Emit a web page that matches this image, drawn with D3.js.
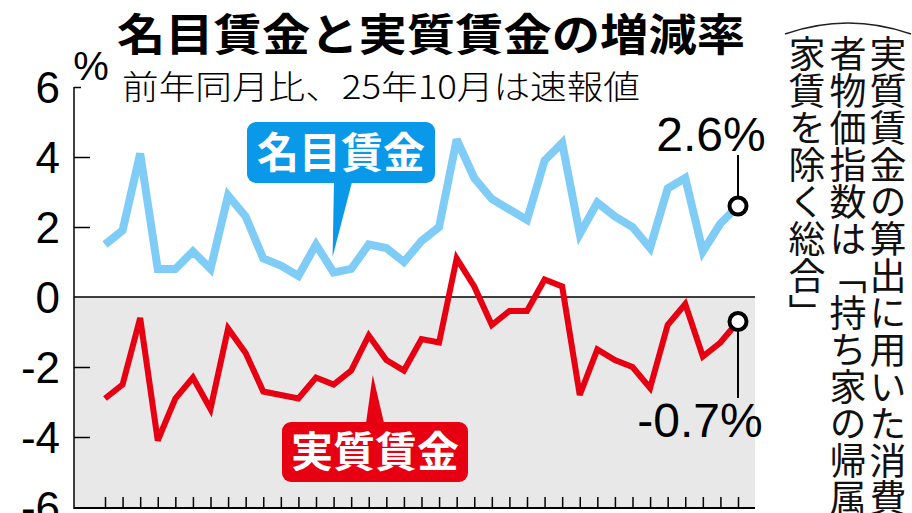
<!DOCTYPE html>
<html><head><meta charset="utf-8">
<script src="https://cdn.jsdelivr.net/npm/d3@7"></script>
<style>
html,body{margin:0;padding:0;background:#fff;}
svg{display:block;}
</style></head>
<body>
<svg id="c" width="912" height="513"></svg>
<script>
// ---- data ----
const months = ["22-10","22-11","22-12","23-01","23-02","23-03","23-04","23-05","23-06","23-07","23-08","23-09","23-10","23-11","23-12","24-01","24-02","24-03","24-04","24-05","24-06","24-07","24-08","24-09","24-10","24-11","24-12","25-01","25-02","25-03","25-04","25-05","25-06","25-07","25-08","25-09","25-10"];
const nominal = [1.5,1.9,4.1,0.8,0.8,1.3,0.8,2.9,2.3,1.1,0.9,0.6,1.5,0.7,0.8,1.5,1.4,1.0,1.6,2.0,4.5,3.4,2.8,2.5,2.2,3.9,4.4,1.8,2.7,2.3,2.0,1.4,3.1,3.4,1.3,2.1,2.6];
const real = [-2.9,-2.5,-0.6,-4.1,-2.9,-2.3,-3.2,-0.9,-1.6,-2.7,-2.8,-2.9,-2.3,-2.5,-2.1,-1.1,-1.8,-2.1,-1.2,-1.3,1.1,0.3,-0.8,-0.4,-0.4,0.5,0.3,-2.8,-1.5,-1.8,-2.0,-2.6,-0.8,-0.2,-1.7,-1.3,-0.7];
const yTicks = [6,4,2,0,-2,-4,-6];
const title = "名目賃金と実質賃金の増減率";
const subtitle = "前年同月比、25年10月は速報値";
const seriesNames = ["名目賃金","実質賃金"];
const noteCols = ["実質賃金の算出に用いた消費","者物価指数は「持ち家の帰属","家賃を除く総合」"];

// ---- layout ----
const svg = d3.select("#c");
const x = d3.scalePoint().domain(months).range([105, 738]);
const y = d3.scaleLinear().domain([-6, 6]).range([507, 87]);
const plotL = 74, plotR = 755;
const latin = "'Liberation Sans', Arial, sans-serif";
const cjk = "'Noto Sans CJK JP', sans-serif";
const fmt = d3.formatLocale({decimal: ".", thousands: ",", grouping: [3], currency: ["", ""], minus: "-"}).format(".1f");

// negative area
svg.append("rect").attr("x", plotL).attr("y", y(0)).attr("width", plotR - plotL).attr("height", y(-6) - y(0)).attr("fill", "#e8e8e8");
svg.append("line").attr("x1", plotL).attr("x2", plotR).attr("y1", y(0)).attr("y2", y(0)).attr("stroke", "#000").attr("stroke-width", 1.5);
svg.append("line").attr("x1", plotL).attr("x2", plotR).attr("y1", y(-6) + 1).attr("y2", y(-6) + 1).attr("stroke", "#000").attr("stroke-width", 2);

// y axis
const yAxis = d3.axisRight(y).tickValues(yTicks).tickSize(16).tickFormat("");
const ya = svg.append("g").attr("transform", `translate(${plotL},0)`).call(yAxis);
ya.select(".domain").remove();
ya.selectAll(".tick line").attr("stroke", "#000").attr("stroke-width", 1.5)
  .attr("x2", d => d === 6 ? 7 : (d === 0 || d === -6 ? 0 : 16));
svg.append("line").attr("x1", plotL).attr("x2", plotL).attr("y1", y(6)).attr("y2", y(-6) + 2).attr("stroke", "#000").attr("stroke-width", 1.5);
svg.append("g").selectAll("text").data(yTicks).join("text")
  .attr("x", 60).attr("y", d => y(d)).attr("dy", "0.36em").attr("text-anchor", "end")
  .attr("font-family", latin).attr("font-size", 44).attr("fill", "#000")
  .text(d => d);
svg.append("text").attr("x", 91).attr("y", 80).attr("text-anchor", "middle")
  .attr("font-family", latin).attr("font-size", 40).text("%");

// x ticks
const xAxis = d3.axisTop(x).tickSize(11).tickFormat("");
const xa = svg.append("g").attr("transform", `translate(0,${y(-6) + 1})`).call(xAxis);
xa.select(".domain").remove();
xa.selectAll(".tick line").attr("stroke", "#000").attr("stroke-width", 1.5);

// title
svg.append("text").attr("x", 117).attr("y", 51).attr("font-family", cjk).attr("font-weight", 700)
  .attr("font-size", 44).attr("textLength", 628).attr("lengthAdjust", "spacingAndGlyphs").text(title);
svg.append("text").attr("x", 122).attr("y", 99).attr("font-family", cjk).attr("font-weight", 300)
  .attr("font-size", 33).attr("textLength", 518).attr("lengthAdjust", "spacingAndGlyphs").text(subtitle);

// bubbles
function bubble(bx, by, bw, bh, baseX0, baseX1, baseY, tipX, tipY, color, label) {
  const g = svg.append("g");
  g.append("rect").attr("x", bx).attr("y", by).attr("width", bw).attr("height", bh).attr("rx", 9).attr("fill", color);
  g.append("path").attr("d", `M${baseX0},${baseY} L${tipX},${tipY} L${baseX1},${baseY} Z`).attr("fill", color);
  g.append("text").attr("x", bx + bw / 2).attr("y", by + bh / 2).attr("dy", "0.36em").attr("text-anchor", "middle")
    .attr("font-family", cjk).attr("font-weight", 700).attr("font-size", 42).attr("fill", "#fff").text(label);
}
bubble(247, 122, 188, 61, 334, 352, 182, x(months[13]) - 1, 257, "#0a98e8", seriesNames[0]);
bubble(282, 422, 186, 60, 366, 384, 423, x(months[15]) + 4, 375, "#e60012", seriesNames[1]);

// lines
const line = d3.line().x((d, i) => x(months[i])).y(d => y(d));
svg.append("path").datum(nominal).attr("d", line).attr("fill", "none").attr("stroke", "#7fcdf7")
  .attr("stroke-width", 8).attr("stroke-linejoin", "miter").attr("stroke-miterlimit", 3);
svg.append("path").datum(real).attr("d", line).attr("fill", "none").attr("stroke", "#e60012")
  .attr("stroke-width", 6).attr("stroke-linejoin", "miter").attr("stroke-miterlimit", 3);

// end markers & labels
const last = months.length - 1, lx = x(months[last]);
svg.append("line").attr("x1", lx).attr("x2", lx).attr("y1", y(nominal[last])).attr("y2", 155).attr("stroke", "#000").attr("stroke-width", 2);
svg.append("line").attr("x1", lx).attr("x2", lx).attr("y1", y(real[last])).attr("y2", 398).attr("stroke", "#000").attr("stroke-width", 2);
[nominal[last], real[last]].forEach(v => {
  svg.append("circle").attr("cx", lx).attr("cy", y(v)).attr("r", 8.5).attr("fill", "#fff").attr("stroke", "#000").attr("stroke-width", 4);
});
svg.append("text").attr("x", 711).attr("y", 151).attr("text-anchor", "middle").attr("font-family", latin)
  .attr("font-size", 48).text(fmt(nominal[last]) + "%");
svg.append("text").attr("x", 700).attr("y", 437).attr("text-anchor", "middle").attr("font-family", latin)
  .attr("font-size", 48).text(fmt(real[last]) + "%");

// vertical note
svg.append("path").attr("d", "M785,34 Q848,12 911,34").attr("fill", "none").attr("stroke", "#222").attr("stroke-width", 1.5);
const colX = [888, 848, 807];
noteCols.forEach((t, i) => {
  svg.append("text").attr("x", colX[i]).attr("y", 35).attr("font-family", cjk).attr("font-size", 37)
    .style("writing-mode", "vertical-rl").attr("fill", "#111").text(t);
});
</script>
</body></html>
